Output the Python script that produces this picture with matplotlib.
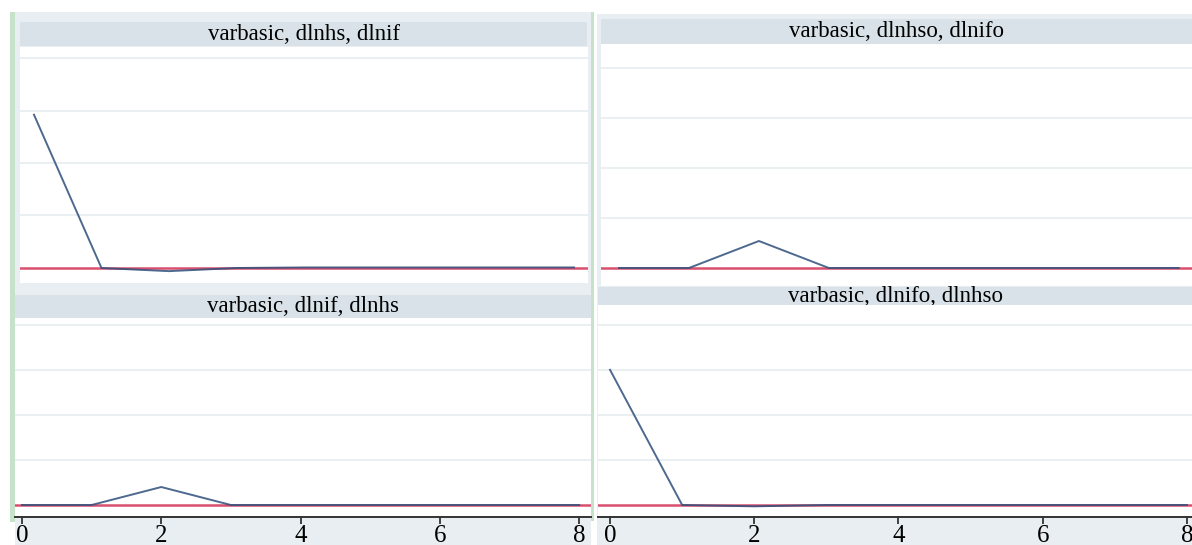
import matplotlib.pyplot as plt
from matplotlib.patches import Rectangle

W, H = 1192, 545

# impulse responses, step 0..8 (in grid units, y labels are cropped off)
steps = [0, 1, 2, 3, 4, 5, 6, 7, 8]
irf_tl = [2.92, 0.0, -0.06, 0.0, 0.01, 0.01, 0.01, 0.01, 0.01]
irf_tr = [0.0, 0.0, 0.54, 0.0, 0.0, 0.0, 0.0, 0.0, 0.0]
irf_bl = [0.0, 0.0, 0.40, 0.0, 0.0, 0.0, 0.0, 0.0, 0.0]
irf_br = [3.0, 0.0, -0.03, 0.0, 0.0, 0.0, 0.0, 0.0, 0.0]
titles = ["varbasic, dlnhs, dlnif", "varbasic, dlnhso, dlnifo",
          "varbasic, dlnif, dlnhs", "varbasic, dlnifo, dlnhso"]
xticks = [0, 2, 4, 6, 8]

FRAME = '#e8eef1'
BAND = '#d8e2e8'
GREEN = '#c6e3c9'
GRID = '#eaeff2'
RED = '#d9506f'
BLUE = '#2f4f7a'
SERIF = 'Liberation Serif'


def box(x0, y0, x1, y1):
    return [x0 / W, 1 - y1 / H, (x1 - x0) / W, (y1 - y0) / H]


def rect(x0, y0, x1, y1, color):
    fig.add_artist(Rectangle((x0 / W, 1 - y1 / H), (x1 - x0) / W, (y1 - y0) / H,
                             transform=fig.transFigure, facecolor=color,
                             edgecolor='none', zorder=0))


fig = plt.figure(figsize=(W / 100, H / 100), dpi=100)
fig.patch.set_facecolor('white')

# backgrounds of the two columns and the green strips
rect(15, 12, 591, 545, FRAME)
rect(597, 14, 1192, 545, FRAME)
rect(10, 12, 15, 522, GREEN)
rect(591, 12, 594, 521, GREEN)


def band(x0, y0, x1, y1, text):
    b = fig.add_axes(box(x0, y0, x1, y1))
    b.set_facecolor(BAND)
    b.set_xticks([])
    b.set_yticks([])
    for s in b.spines.values():
        s.set_visible(False)
    b.text(0.5, 0.5, text, ha='center', va='center', fontsize=16.5,
           family=SERIF, transform=b.transAxes)


def panel(pos, xlim, ylim, vals, axis=False):
    ax = fig.add_axes(box(*pos))
    ax.set_facecolor('white')
    ax.set_xlim(*xlim)
    ax.set_ylim(*ylim)
    for y in [1, 2, 3, 4]:
        ax.axhline(y, color=GRID, lw=1.4, zorder=1)
    ax.axhline(0, color=RED, lw=1.8, zorder=2)
    ax.plot(steps, vals, color=BLUE, lw=1.4, alpha=0.85, zorder=3)
    for s in ['top', 'left', 'right']:
        ax.spines[s].set_visible(False)
    ax.set_yticks([])
    if axis:
        ax.spines['bottom'].set_color('#333333')
        ax.spines['bottom'].set_linewidth(1.4)
        ax.set_xticks(xticks)
        ax.tick_params(axis='x', length=5, width=1.3, color='#333333',
                       labelsize=18, pad=1)
        for lab in ax.get_xticklabels():
            lab.set_family(SERIF)
    else:
        ax.spines['bottom'].set_visible(False)
        ax.set_xticks([])
    return ax


# top left
band(20, 22, 587, 46, titles[0])
panel((20, 47, 588, 283), (-0.207, 8.207), (-0.286, 4.21), irf_tl)

# top right
band(601, 19, 1192, 44, titles[1])
panel((601, 44, 1192, 286), (-0.257, 8.19), (-0.36, 4.48), irf_tr)

# bottom left
band(15, 295, 591, 318, titles[2])
panel((15, 318, 591, 517), (-0.1, 8.17), (-0.267, 4.16), irf_bl, axis=True)

# bottom right
band(598, 287, 1192, 305, titles[3])
panel((598, 305, 1192, 517), (-0.167, 8.07), (-0.267, 4.44), irf_br, axis=True)

fig.savefig('out.png', dpi=100, facecolor=fig.get_facecolor())
